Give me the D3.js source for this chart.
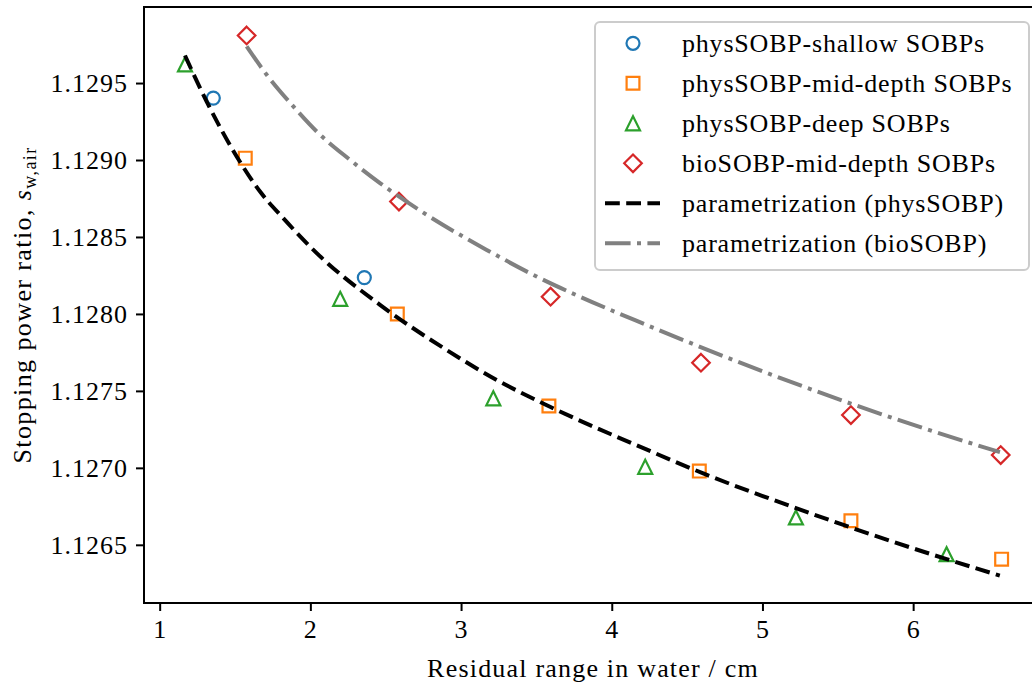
<!DOCTYPE html>
<html>
<head>
<meta charset="utf-8">
<script src="https://cdn.jsdelivr.net/npm/d3@7"></script>
<style>
  html, body { margin: 0; padding: 0; background: #fff; }
  svg { display: block; }
  text { font-family: "Liberation Serif", "Times New Roman", serif; fill: #000; }
</style>
</head>
<body>
<svg id="chart" width="1032" height="686"></svg>
<script>
// ---- data ----
const shallowX = [1.356, 2.358];
const shallowY = [1.129402, 1.128236];

const midX = [1.568, 2.577, 3.583, 4.581, 5.587, 6.587];
const midY = [1.129012, 1.128000, 1.127402, 1.126979, 1.126656, 1.126407];

const deepX = [1.168, 2.198, 3.214, 4.222, 5.222, 6.222];
const deepY = [1.129621, 1.128098, 1.127452, 1.127007, 1.126678, 1.126439];

const bioX = [1.577, 2.588, 3.594, 4.592, 5.587, 6.581];
const bioY = [1.129809, 1.128730, 1.128112, 1.127683, 1.127343, 1.127083];

const physFitX = [1.168, 1.312, 1.511, 1.666, 1.820, 2.042, 2.462, 2.904, 3.236, 3.590, 4.253, 4.607, 5.227, 5.585, 6.222, 6.575];
const physFitY = [1.129679, 1.129380, 1.129023, 1.128795, 1.128622, 1.128395, 1.128059, 1.127766, 1.127571, 1.127397, 1.127110, 1.126964, 1.126737, 1.126613, 1.126407, 1.126300];

const bioFitX = [1.577, 1.710, 1.887, 2.042, 2.263, 2.462, 2.772, 3.170, 3.524, 3.789, 4.232, 4.652, 5.116, 5.602, 6.067, 6.576];
const bioFitY = [1.129738, 1.129554, 1.129348, 1.129185, 1.129001, 1.128850, 1.128644, 1.128416, 1.128232, 1.128112, 1.127928, 1.127760, 1.127585, 1.127412, 1.127258, 1.127102];

const xTicks = [1, 2, 3, 4, 5, 6];
const yTicks = [1.1265, 1.1270, 1.1275, 1.1280, 1.1285, 1.1290, 1.1295];

const xDomain = [0.896, 6.855];
const yDomain = [1.126122, 1.129994];

const legendLabels = [
  "physSOBP-shallow SOBPs",
  "physSOBP-mid-depth SOBPs",
  "physSOBP-deep SOBPs",
  "bioSOBP-mid-depth SOBPs",
  "parametrization (physSOBP)",
  "parametrization (bioSOBP)"
];

// ---- layout ----
const plot = { left: 144, right: 1042, top: 7, bottom: 603 };
const FS = 26;

const svg = d3.select("#chart");
svg.append("rect").attr("width", 1032).attr("height", 686).attr("fill", "#fff");

const x = d3.scaleLinear().domain(xDomain).range([plot.left, plot.right]);
const y = d3.scaleLinear().domain(yDomain).range([plot.bottom, plot.top]);

const colors = { blue: "#1f77b4", orange: "#ff7f0e", green: "#2ca02c", red: "#d62728" };

// marker path generators (hollow)
const markerPath = {
  circle: (r => `M${r},0A${r},${r} 0 1,1 ${-r},0A${r},${r} 0 1,1 ${r},0Z`)(6.5),
  square: (h => `M${-h},${-h}H${h}V${h}H${-h}Z`)(6.4),
  triangle: (h => `M0,${-h}L${h},${h}L${-h},${h}Z`)(7),
  diamond: (h => `M0,${-h}L${h},0L0,${h}L${-h},0Z`)(8.8)
};

function drawMarkers(g, xs, ys, type, color) {
  g.selectAll(null).data(xs.map((v, i) => [v, ys[i]])).enter()
    .append("path")
    .attr("d", markerPath[type])
    .attr("transform", d => `translate(${x(d[0])},${y(d[1])})`)
    .attr("fill", "none")
    .attr("stroke", color)
    .attr("stroke-width", 2.2)
    .attr("stroke-linejoin", "miter");
}

// ---- axes ----
const xAxis = d3.axisBottom(x).tickValues(xTicks).tickFormat(d3.format("d")).tickSize(8).tickPadding(9);
const yAxis = d3.axisLeft(y).tickValues(yTicks).tickFormat(d3.format(".4f")).tickSize(8).tickPadding(9);

const gx = svg.append("g").attr("transform", `translate(0,${plot.bottom})`).call(xAxis);
const gy = svg.append("g").attr("transform", `translate(${plot.left},0)`).call(yAxis);
[gx, gy].forEach(g => {
  g.select(".domain").remove();
  g.selectAll(".tick line").attr("stroke", "#000").attr("stroke-width", 2);
  g.selectAll(".tick text").attr("font-size", FS).attr("font-family", "Liberation Serif")
    .attr("fill", "#000").attr("letter-spacing", 1);
});
gy.selectAll(".tick text").attr("dx", 1);

// data layer
const gData = svg.append("g");
drawMarkers(gData, shallowX, shallowY, "circle", colors.blue);
drawMarkers(gData, midX, midY, "square", colors.orange);
drawMarkers(gData, deepX, deepY, "triangle", colors.green);
drawMarkers(gData, bioX, bioY, "diamond", colors.red);

const line = d3.line().x(d => x(d[0])).y(d => y(d[1])).curve(d3.curveMonotoneX);
gData.append("path")
  .attr("d", line(physFitX.map((v, i) => [v, physFitY[i]])))
  .attr("fill", "none").attr("stroke", "#000").attr("stroke-width", 4)
  .attr("stroke-dasharray", "14.8,6.4");
gData.append("path")
  .attr("d", line(bioFitX.map((v, i) => [v, bioFitY[i]])))
  .attr("fill", "none").attr("stroke", "#808080").attr("stroke-width", 4)
  .attr("stroke-dasharray", "25.6,6.4,4,6.4");

// frame (spines)
svg.append("rect")
  .attr("x", plot.left).attr("y", plot.top)
  .attr("width", plot.right - plot.left).attr("height", plot.bottom - plot.top)
  .attr("fill", "none").attr("stroke", "#000").attr("stroke-width", 2);

// axis labels
svg.append("text")
  .attr("x", 593).attr("y", 677)
  .attr("text-anchor", "middle").attr("font-size", FS).attr("letter-spacing", 1.2)
  .text("Residual range in water / cm");

const yl = svg.append("text")
  .attr("transform", `translate(31,${(plot.top + plot.bottom) / 2}) rotate(-90)`)
  .attr("text-anchor", "middle").attr("font-size", FS).attr("letter-spacing", 1.4);
yl.append("tspan").text("Stopping power ratio, ");
yl.append("tspan").attr("font-style", "italic").text("s");
yl.append("tspan").attr("font-size", 18).attr("dy", 5).text("w,air");

// ---- legend ----
const lg = svg.append("g");
lg.append("rect")
  .attr("x", 595).attr("y", 22).attr("width", 434).attr("height", 248)
  .attr("rx", 5).attr("ry", 5)
  .attr("fill", "#fff").attr("fill-opacity", 0.8)
  .attr("stroke", "#cccccc").attr("stroke-width", 2);

const rowY = i => 43.3 + 40 * i;
const legendMarkers = [
  ["circle", colors.blue], ["square", colors.orange], ["triangle", colors.green], ["diamond", colors.red]
];
legendMarkers.forEach((m, i) => {
  lg.append("path").attr("d", markerPath[m[0]])
    .attr("transform", `translate(633,${rowY(i)})`)
    .attr("fill", "none").attr("stroke", m[1]).attr("stroke-width", 2.2);
});
lg.append("line").attr("x1", 605).attr("x2", 660).attr("y1", rowY(4)).attr("y2", rowY(4))
  .attr("stroke", "#000").attr("stroke-width", 4).attr("stroke-dasharray", "14.8,6.4");
lg.append("line").attr("x1", 605).attr("x2", 660).attr("y1", rowY(5)).attr("y2", rowY(5))
  .attr("stroke", "#808080").attr("stroke-width", 4).attr("stroke-dasharray", "25.6,6.4,4,6.4");

legendLabels.forEach((t, i) => {
  lg.append("text").attr("x", 682).attr("y", rowY(i) + 8.5)
    .attr("font-size", FS).attr("letter-spacing", 0.8).text(t);
});
</script>
</body>
</html>
